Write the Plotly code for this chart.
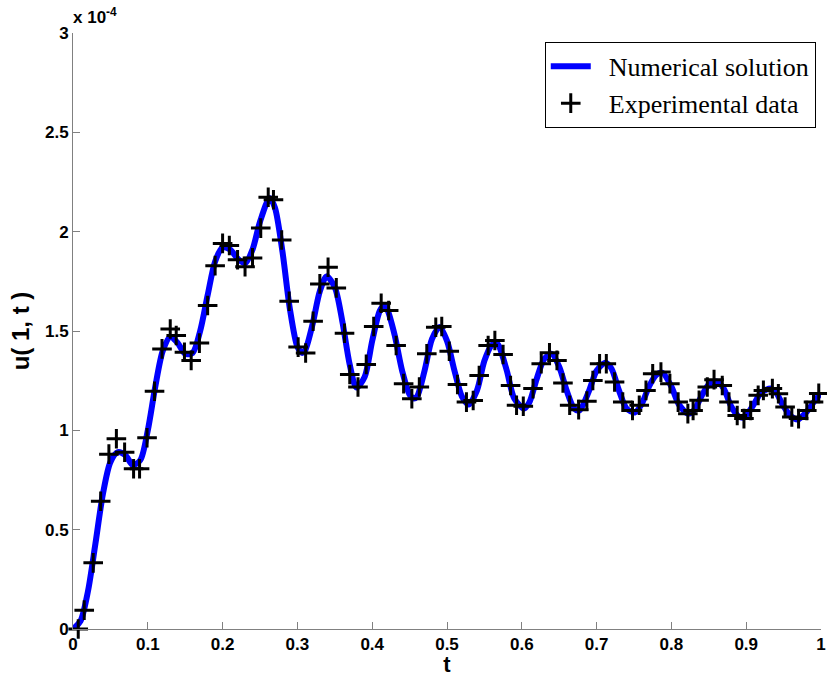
import plotly.graph_objects as go

# Experimental data (t, u in units of 1e-4)
t_exp = [0.007, 0.015, 0.027, 0.037, 0.048, 0.058, 0.069, 0.081, 0.089, 0.099,
         0.109, 0.119, 0.130, 0.138, 0.149, 0.158, 0.169, 0.180, 0.190, 0.200,
         0.209, 0.220, 0.230, 0.240, 0.251, 0.261, 0.268, 0.279, 0.289, 0.301,
         0.311, 0.321, 0.330, 0.341, 0.352, 0.363, 0.370, 0.381, 0.392, 0.402,
         0.412, 0.422, 0.432, 0.442, 0.453, 0.463, 0.473, 0.485, 0.493, 0.503,
         0.514, 0.526, 0.535, 0.543, 0.555, 0.564, 0.575, 0.585, 0.593, 0.602,
         0.615, 0.626, 0.637, 0.647, 0.655, 0.664, 0.676, 0.687, 0.695, 0.704,
         0.713, 0.724, 0.735, 0.748, 0.757, 0.766, 0.775, 0.786, 0.798, 0.809,
         0.822, 0.829, 0.837, 0.848, 0.857, 0.868, 0.877, 0.888, 0.897, 0.906,
         0.916, 0.923, 0.935, 0.943, 0.952, 0.961, 0.970, 0.981, 0.990, 0.997]
u_exp = [0.0, 0.095, 0.333, 0.643, 0.88, 0.958, 0.89, 0.807, 0.807, 0.963,
         1.197, 1.41, 1.51, 1.477, 1.393, 1.352, 1.439, 1.628, 1.829, 1.941,
         1.93, 1.859, 1.824, 1.868, 2.018, 2.173, 2.161, 1.958, 1.65, 1.419,
         1.389, 1.549, 1.737, 1.821, 1.717, 1.489, 1.281, 1.218, 1.332, 1.523,
         1.640, 1.603, 1.427, 1.235, 1.159, 1.218, 1.385, 1.519, 1.523, 1.398,
         1.231, 1.142, 1.15, 1.276, 1.427, 1.452, 1.382, 1.226, 1.126, 1.121,
         1.21, 1.335, 1.39, 1.352, 1.238, 1.126, 1.104, 1.147, 1.251, 1.335,
         1.335, 1.243, 1.142, 1.10, 1.126, 1.201, 1.285, 1.293, 1.235, 1.142,
         1.084, 1.10, 1.151, 1.218, 1.255, 1.226, 1.142, 1.075, 1.059, 1.10,
         1.176, 1.201, 1.21, 1.184, 1.117, 1.067, 1.059, 1.10, 1.142, 1.186]

# Numerical solution (t, u in units of 1e-4)
t_num = [0.0, 0.01, 0.02, 0.03, 0.04, 0.05, 0.06, 0.07, 0.08, 0.09,
         0.10, 0.11, 0.12, 0.13, 0.14, 0.15, 0.16, 0.17, 0.18, 0.19,
         0.20, 0.21, 0.22, 0.23, 0.24, 0.25, 0.263, 0.27, 0.28, 0.29,
         0.30, 0.306, 0.31, 0.32, 0.33, 0.339, 0.35, 0.36, 0.37, 0.379,
         0.39, 0.40, 0.41, 0.416, 0.42, 0.43, 0.44, 0.45, 0.456, 0.46,
         0.47, 0.48, 0.49, 0.50, 0.51, 0.52, 0.529, 0.54, 0.55, 0.56,
         0.566, 0.57, 0.58, 0.59, 0.603, 0.61, 0.62, 0.63, 0.64, 0.65,
         0.66, 0.67, 0.677, 0.69, 0.70, 0.712, 0.72, 0.73, 0.74, 0.751,
         0.76, 0.77, 0.78, 0.788, 0.80, 0.81, 0.822, 0.83, 0.84, 0.85,
         0.861, 0.87, 0.88, 0.89, 0.897, 0.91, 0.92, 0.933, 0.94, 0.95,
         0.96, 0.969, 0.98, 0.99, 1.0]
u_num = [0.0, 0.04, 0.19, 0.43, 0.68, 0.84, 0.89, 0.875, 0.825, 0.85,
         1.0, 1.22, 1.40, 1.47, 1.44, 1.385, 1.39, 1.50, 1.68, 1.85,
         1.92, 1.91, 1.865, 1.84, 1.91, 2.05, 2.17, 2.12, 1.90, 1.61,
         1.42, 1.39, 1.40, 1.53, 1.70, 1.775, 1.72, 1.55, 1.33, 1.215,
         1.27, 1.45, 1.60, 1.63, 1.61, 1.48, 1.30, 1.18, 1.16, 1.17,
         1.30, 1.46, 1.52, 1.45, 1.30, 1.17, 1.13, 1.20, 1.35, 1.43,
         1.44, 1.42, 1.30, 1.16, 1.11, 1.14, 1.26, 1.36, 1.385, 1.32,
         1.20, 1.11, 1.10, 1.20, 1.30, 1.34, 1.31, 1.20, 1.11, 1.09,
         1.13, 1.22, 1.28, 1.29, 1.22, 1.13, 1.085, 1.10, 1.17, 1.23,
         1.245, 1.21, 1.12, 1.07, 1.065, 1.13, 1.19, 1.21, 1.19, 1.12,
         1.07, 1.055, 1.09, 1.14, 1.19]

SCALE = 1e-4
y_ticks = [0, 0.5, 1, 1.5, 2, 2.5, 3]
y_ticktext = ["0", "0.5", "1", "1.5", "2", "2.5", "3"]
x_ticks = [0, 0.1, 0.2, 0.3, 0.4, 0.5, 0.6, 0.7, 0.8, 0.9, 1]
x_ticktext = ["0", "0.1", "0.2", "0.3", "0.4", "0.5", "0.6", "0.7", "0.8", "0.9", "1"]

FONT = "Liberation Sans, Arial"
tick_font = dict(family=FONT, size=17, color="black")
title_font = dict(family=FONT, size=24, color="black")

fig = go.Figure()
fig.add_trace(go.Scatter(
    x=t_num, y=[v * SCALE for v in u_num], mode="lines",
    line=dict(color="#0000FF", width=6, shape="spline", smoothing=0.8),
    name="\u2002Numerical solution"))
fig.add_trace(go.Scatter(
    x=t_exp, y=[v * SCALE for v in u_exp], mode="markers",
    marker=dict(symbol="cross-thin", size=14, line=dict(color="black", width=3)),
    name="\u2002Experimental data", cliponaxis=False))

fig.update_layout(
    width=827, height=677,
    margin=dict(l=73, r=1, t=33, b=48),
    paper_bgcolor="white", plot_bgcolor="white",
    font=dict(family=FONT, color="black"),
    showlegend=True,
    legend=dict(x=0.993, y=0.985, xanchor="right", yanchor="top",
                bgcolor="white", bordercolor="black", borderwidth=1,
                font=dict(family="Liberation Serif, Times New Roman", size=26, color="black"),
                tracegroupgap=0, itemwidth=40),
    xaxis=dict(range=[0, 1], tickvals=x_ticks,
               ticktext=["<b>%s</b>" % s for s in x_ticktext],
               ticks="inside", ticklen=7, tickcolor="#808080", tickwidth=1,
               showline=True, linecolor="#808080", linewidth=1,
               showgrid=False, zeroline=False, tickfont=tick_font,
               ticklabeloverflow="allow",
               title=dict(text="<b>t</b>", font=dict(family=FONT, size=22, color="black"),
                          standoff=4)),
    yaxis=dict(range=[0, 3 * SCALE], tickvals=[v * SCALE for v in y_ticks],
               ticktext=["<b>%s</b>" % s for s in y_ticktext],
               ticks="inside", ticklen=7, tickcolor="#808080", tickwidth=1,
               showline=True, linecolor="#808080", linewidth=1,
               showgrid=False, zeroline=False, tickfont=tick_font,
               title=dict(text="<b>u( 1, t )</b>", font=title_font, standoff=8)),
)

fig.add_annotation(x=0, y=1, xref="paper", yref="paper", xanchor="left", yanchor="bottom",
                   text="<b>x 10<sup>-4</sup></b>", showarrow=False, xshift=-2, yshift=4,
                   font=dict(family=FONT, size=17, color="black"))

fig.write_html("out.html")
